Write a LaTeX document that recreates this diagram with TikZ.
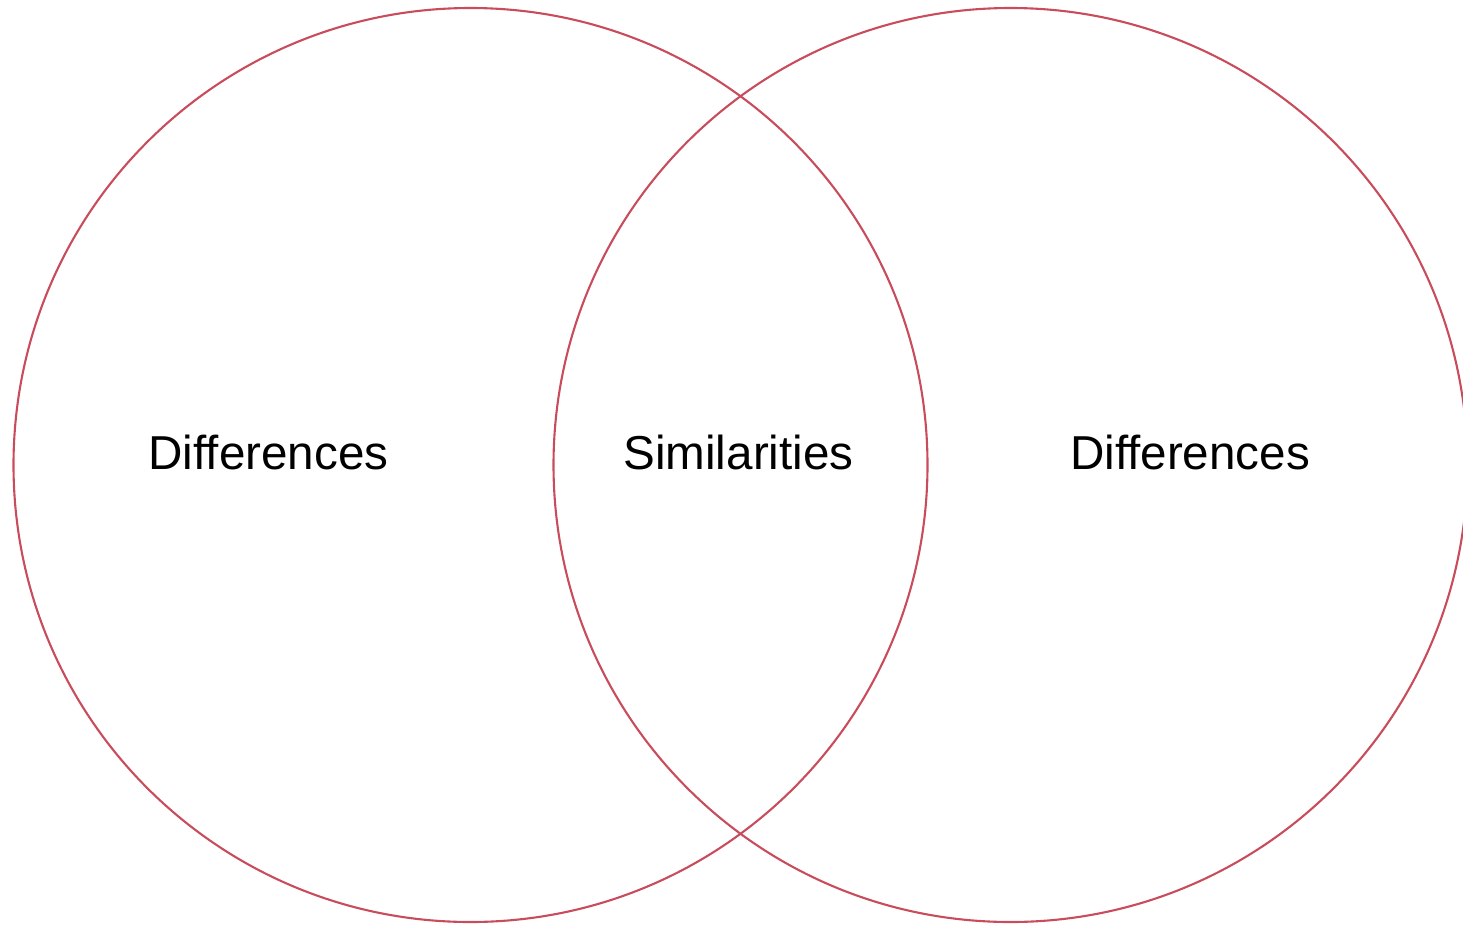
\documentclass[tikz,border=0pt]{standalone}
\usepackage{fontspec}
\setmainfont[Ligatures=NoCommon]{Liberation Sans}
\definecolor{ring}{RGB}{201,76,92}
\begin{document}
\begin{tikzpicture}[x=1pt,y=-1pt,
  ring/.style={draw=ring,line width=2.1pt},
  lbl/.style={font=\fontsize{47.6}{56}\selectfont,inner sep=0pt,anchor=base}]
\useasboundingbox (0,0) rectangle (1463,924);
\draw[ring] (470.5,465) circle[radius=457];
\draw[ring] (1010.5,465) circle[radius=457];
\node[lbl] (d1) at (268.5,469) {Differences};
\node[lbl] (s) at (738.5,469) {Similarities};
\node[lbl] (d2) at (1190,469) {Differences};
\end{tikzpicture}
\end{document}
